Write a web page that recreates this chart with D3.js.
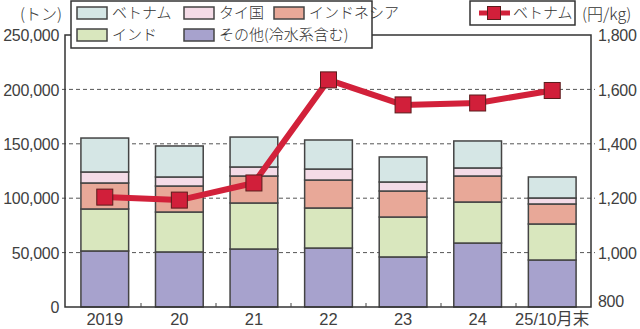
<!DOCTYPE html>
<html>
<head>
<meta charset="utf-8">
<script src="https://cdn.jsdelivr.net/npm/d3@7/dist/d3.min.js"></script>
<style>
  html, body { margin: 0; padding: 0; background: #fff; }
  svg { display: block; }
  .num { font-family: "Liberation Sans", Arial, sans-serif; font-size: 16px; letter-spacing: -0.3px; fill: #404040; }
  .cat { font-family: "Liberation Sans", "Noto Sans CJK JP", sans-serif; font-size: 16.5px; fill: #404040; }
  .jp { font-family: "Noto Sans CJK JP", sans-serif; font-size: 15px; font-weight: 300; fill: #333; }
</style>
</head>
<body>
<svg id="chart" width="640" height="329"></svg>
<script>
// Categories (years) and stacked volumes in tonnes, bottom to top
const categories = ["2019", "20", "21", "22", "23", "24", "25/10月末"];
const others    = [51500, 50600, 53300, 54200, 46000, 58800, 43200];
const india     = [38600, 36700, 42300, 36800, 36700, 37700, 33100];
const indonesia = [23900, 23900, 24800, 25700, 23900, 23900, 18400];
const thailand  = [10100,  8300,  8300, 10100,  8300,  7400,  5500];
const vietnam   = [31200, 28500, 27500, 26700, 23000, 24800, 19300];
// Vietnam unit price, yen per kg (right axis)
const vietnamPrice = [1204, 1193, 1256, 1635, 1543, 1550, 1596];

const leftTicks  = [0, 50000, 100000, 150000, 200000, 250000];
const rightTicks = [800, 1000, 1200, 1400, 1600, 1800];

const seriesKeys   = ["others", "india", "indonesia", "thailand", "vietnam"];
const seriesNames  = { vietnam: "ベトナム", thailand: "タイ国", indonesia: "インドネシア", india: "インド", others: "その他(冷水系含む)" };
const seriesColors = { vietnam: "#d5e6e5", thailand: "#f4dbe7", indonesia: "#e8a898", india: "#d9e7be", others: "#a7a2cd" };

const rows = categories.map((c, i) => ({
  cat: c, others: others[i], india: india[i], indonesia: indonesia[i],
  thailand: thailand[i], vietnam: vietnam[i]
}));

const svg = d3.select("#chart");
const L = 65, R = 591, T = 35, B = 307;

const x = d3.scaleBand().domain(categories).range([L + 1, R]).paddingInner(0.36).paddingOuter(0.2);
const band = d3.scaleBand().domain(categories).range([L + 1, R]);
const yL = d3.scaleLinear().domain([0, 250000]).range([B, T]);
const yR = d3.scaleLinear().domain([800, 1800]).range([B, T]);

// dashed gridlines
svg.append("g").selectAll("line")
  .data(leftTicks.filter(t => t > 0 && t < 250000))
  .join("line")
  .attr("x1", L - 3).attr("x2", R + 4)
  .attr("y1", d => yL(d)).attr("y2", d => yL(d))
  .attr("stroke", "#555").attr("stroke-width", 1)
  .attr("stroke-dasharray", "4,3");

// stacked bars
const stacked = d3.stack().keys(seriesKeys)(rows);
svg.append("g").selectAll("g")
  .data(stacked)
  .join("g")
  .attr("fill", d => seriesColors[d.key])
  .selectAll("rect")
  .data(d => d)
  .join("rect")
  .attr("x", d => x(d.data.cat))
  .attr("width", x.bandwidth())
  .attr("y", d => yL(d[1]))
  .attr("height", d => yL(d[0]) - yL(d[1]))
  .attr("stroke", "#444").attr("stroke-width", 1.5);

// plot frame
svg.append("rect")
  .attr("x", L).attr("y", T).attr("width", R - L).attr("height", B - T)
  .attr("fill", "none").attr("stroke", "#333").attr("stroke-width", 1.5);

// small ticks between categories on the bottom axis
svg.append("g").selectAll("line")
  .data(categories.slice(1))
  .join("line")
  .attr("x1", d => band(d)).attr("x2", d => band(d))
  .attr("y1", B).attr("y2", B - 4)
  .attr("stroke", "#444").attr("stroke-width", 1);

// left axis labels
const axL = svg.append("g").attr("transform", `translate(${L - 6},0)`)
  .call(d3.axisLeft(yL).tickValues(leftTicks).tickSize(0).tickPadding(0).tickFormat(d3.format(",")));
axL.select(".domain").remove();
axL.selectAll("text").attr("class", "num").attr("dy", "0.36em");

// right axis labels
const axR = svg.append("g").attr("transform", `translate(${R + 7},0)`)
  .call(d3.axisRight(yR).tickValues(rightTicks).tickSize(0).tickPadding(0).tickFormat(d3.format(",")));
axR.select(".domain").remove();
axR.selectAll("text").attr("class", "num").attr("dy", d => d === 800 ? "-0.05em" : "0.36em");

// bottom category labels
const axB = svg.append("g").attr("transform", `translate(0,${B})`)
  .call(d3.axisBottom(x).tickSize(0).tickPadding(0));
axB.select(".domain").remove();
axB.selectAll("text").attr("class", "cat").attr("dy", "0").attr("y", 18);

// price line with square markers
const cx = c => x(c) + x.bandwidth() / 2;
const pts = categories.map((c, i) => [cx(c), yR(vietnamPrice[i])]);
svg.append("path")
  .attr("d", d3.line()(pts))
  .attr("fill", "none").attr("stroke", "#d2213a").attr("stroke-width", 6)
  .attr("stroke-linejoin", "round");
const ms = 16;
svg.append("g").selectAll("rect")
  .data(pts)
  .join("rect")
  .attr("x", d => d[0] - ms / 2).attr("y", d => d[1] - ms / 2)
  .attr("width", ms).attr("height", ms)
  .attr("fill", "#d11f3a").attr("stroke", "#5a1c1c").attr("stroke-width", 1);

// unit labels
svg.append("text").attr("class", "jp").attr("x", 62).attr("y", 14).attr("dy", "0.36em")
  .attr("text-anchor", "end").style("font-size", "16px").text("(トン)");
svg.append("text").attr("class", "jp").attr("x", 582).attr("y", 14).attr("dy", "0.36em")
  .style("font-size", "16px").text("(円/kg)");

// stacked-series legend
const lg = svg.append("g");
lg.append("rect").attr("x", 71).attr("y", 1).attr("width", 301).attr("height", 47)
  .attr("fill", "#fff").attr("stroke", "#333").attr("stroke-width", 1.5);
const legendItems = [
  { key: "vietnam", x: 77, y: 13 }, { key: "thailand", x: 184, y: 13 }, { key: "indonesia", x: 274, y: 13 },
  { key: "india", x: 77, y: 35 }, { key: "others", x: 184, y: 35 }
];
const li = lg.selectAll("g.item").data(legendItems).join("g").attr("class", "item");
li.append("rect").attr("x", d => d.x).attr("y", d => d.y - 6).attr("width", 30).attr("height", 12)
  .attr("fill", d => seriesColors[d.key]).attr("stroke", "#444").attr("stroke-width", 1.5);
li.append("text").attr("class", "jp").attr("x", d => d.x + 35).attr("y", d => d.y).attr("dy", "0.36em")
  .text(d => seriesNames[d.key]);

// price legend
const lp = svg.append("g");
lp.append("rect").attr("x", 470).attr("y", 1).attr("width", 105).attr("height", 24)
  .attr("fill", "#fff").attr("stroke", "#333").attr("stroke-width", 1.5);
lp.append("line").attr("x1", 479).attr("x2", 510).attr("y1", 13).attr("y2", 13)
  .attr("stroke", "#d2213a").attr("stroke-width", 5);
lp.append("rect").attr("x", 487.5).attr("y", 6.5).attr("width", 13).attr("height", 13)
  .attr("fill", "#d11f3a").attr("stroke", "#5a1c1c").attr("stroke-width", 1);
lp.append("text").attr("class", "jp").attr("x", 513).attr("y", 13).attr("dy", "0.36em").text("ベトナム");
</script>
</body>
</html>
